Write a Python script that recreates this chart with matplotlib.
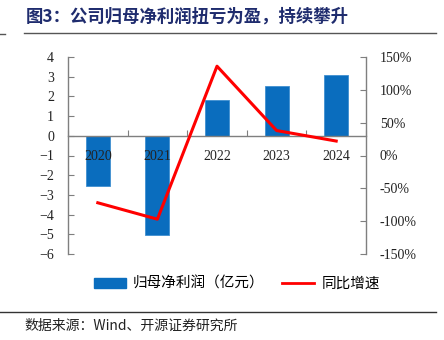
import matplotlib.pyplot as plt
from matplotlib.lines import Line2D
from matplotlib.patches import Patch
import numpy as np

years = ["2020", "2021", "2022", "2023", "2024"]
profit = [-2.54, -5.06, 1.83, 2.54, 3.08]      # 归母净利润（亿元）
growth = [-72, -97, 136, 38, 22]               # 同比增速 %

CJK = ['Noto Sans CJK SC', 'DejaVu Sans']
SERIF = ['Liberation Serif', 'Noto Sans CJK SC']
BLUE = '#0A6DBE'
RED = '#FF0000'
GRAY = '#7F7F7F'

fig = plt.figure(figsize=(4.44, 3.4), dpi=100)
ax = fig.add_axes([68 / 444, 1 - 254 / 340, 298 / 444, 197 / 340])
ax2 = ax.twinx()

x = np.arange(len(years))
ax.bar(x, profit, width=0.4, color=BLUE, edgecolor='#3F8FD0', linewidth=0.6)
ax2.plot(x, growth, color=RED, linewidth=2.2)

ax.set_xlim(-0.5, 4.5)
ax.set_ylim(-6, 4)
ax.set_yticks(range(-6, 5))
ax2.set_ylim(-150, 150)
ax2.set_yticks(range(-150, 151, 50))
ax2.set_yticklabels([f"{v}%" for v in range(-150, 151, 50)])

# x axis drawn on the zero line, ticks at category boundaries
ax.spines['bottom'].set_position(('data', 0))
ax.set_xticks(np.arange(-0.5, 4.6, 1))
ax.set_xticklabels([])
ax.set_xticks(x, minor=True)
ax.set_xticklabels(years, minor=True)
ax.tick_params(axis='x', which='major', direction='in', length=4, color=GRAY)
ax.tick_params(axis='x', which='minor', length=0, pad=10)

ax.tick_params(axis='y', direction='in', length=4, color=GRAY, pad=10)
ax2.tick_params(axis='y', direction='in', length=4, color=GRAY, pad=10)

for a in (ax, ax2):
    a.spines['top'].set_visible(False)
    for s in a.spines.values():
        s.set_color(GRAY)
        s.set_linewidth(1)
ax2.spines['bottom'].set_visible(False)
ax2.spines['left'].set_visible(False)
ax.spines['right'].set_visible(False)

for lbl in ax.get_yticklabels() + ax2.get_yticklabels() + ax.get_xticklabels(minor=True):
    lbl.set_family(SERIF)
    lbl.set_fontsize(10)
    lbl.set_color('#222222')

handles = [Patch(color=BLUE), Line2D([], [], color=RED, linewidth=2)]
fig.legend(handles, ["归母净利润（亿元）", "同比增速"], loc='center',
           bbox_to_anchor=(237 / 444, 1 - 284 / 340), ncol=2, frameon=False,
           prop={'family': CJK, 'size': 10.5}, handlelength=2.2, handleheight=0.6,
           columnspacing=1.2, handletextpad=0.5)

fig.text(26 / 444, 1 - 17 / 340, "图3：公司归母净利润扭亏为盈，持续攀升",
         family=CJK, fontsize=12.5, fontweight='bold', color='#1F2C6E', va='center')
fig.add_artist(Line2D([24 / 444, 436 / 444], [1 - 33 / 340] * 2, color='#555555', linewidth=1))
fig.add_artist(Line2D([0, 5 / 444], [1 - 34 / 340] * 2, color='#555555', linewidth=1))
fig.add_artist(Line2D([0, 436 / 444], [1 - 312 / 340] * 2, color='#333333', linewidth=1))
fig.text(24 / 444, 1 - 326 / 340, "数据来源：Wind、开源证券研究所",
         family=CJK, fontsize=10, color='#222222', va='center')

fig.savefig("out.png", dpi=100)
